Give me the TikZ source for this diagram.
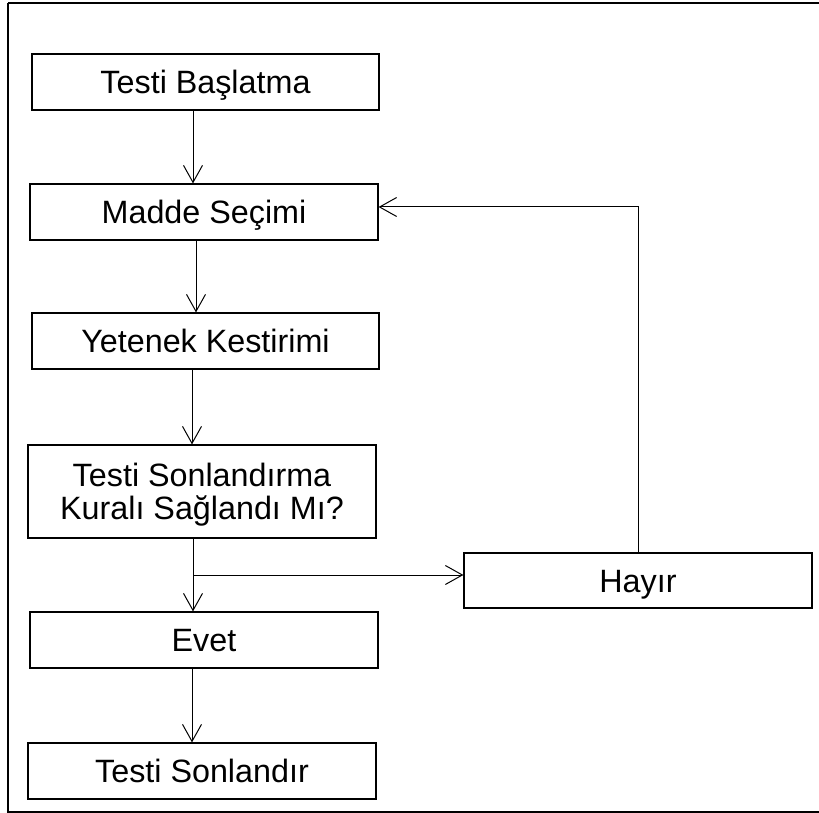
\documentclass[tikz,border=0pt]{standalone}
\usepackage{fontspec}
\setmainfont{Liberation Sans}
\usetikzlibrary{arrows.meta}
\begin{document}
\begin{tikzpicture}[x=1pt,y=-1pt,
  box/.style={draw, line width=1.2pt, inner sep=0pt, align=center,
    text depth=0pt, font=\fontsize{32.3}{32.5}\selectfont},
  one/.style={text height=23pt},
  conn/.style={line width=1pt, -{Straight Barb[length=17pt,width=19pt,line width=1pt]}}]
\useasboundingbox (0,0) rectangle (819,813);
\draw[line width=1.3pt] (8,3) -- (830,3) (8,3) -- (8,812) -- (830,812);
\node[box, one, minimum width=347pt, minimum height=56pt] (b1) at (205.5,82) {Testi Başlatma};
\node[box, one, minimum width=348pt, minimum height=56pt] (b2) at (204,212) {Madde Seçimi};
\node[box, one, minimum width=347pt, minimum height=56pt] (b3) at (205.5,341) {Yetenek Kestirimi};
\node[box, minimum width=348pt, minimum height=93pt] (b4) at (202,491.5) {Testi Sonlandırma\\Kuralı Sağlandı Mı?};
\node[box, one, minimum width=348pt, minimum height=55pt] (h) at (638,580.5) {Hayır};
\node[box, one, minimum width=348pt, minimum height=56pt] (e) at (204,640) {Evet};
\node[box, one, minimum width=348pt, minimum height=56pt] (b7) at (202,771) {Testi Sonlandır};
\coordinate (x1) at (193,0);
\coordinate (x2) at (196,0);
\coordinate (x3) at (192,0);
\coordinate (j) at (193,575);
\coordinate (k) at (638,207);
\draw[conn] (b1.south -| x1) -- (b2.north -| x1);
\draw[conn] (b2.south -| x2) -- (b3.north -| x2);
\draw[conn] (b3.south -| x3) -- (b4.north -| x3);
\draw[conn] (b4.south -| j) -- (e.north -| j);
\draw[conn] (j) -- (h.west |- j);
\draw[conn] (h.north) -- (k) -- (b2.east |- k);
\draw[conn] (e.south -| x3) -- (b7.north -| x3);
\end{tikzpicture}
\end{document}
